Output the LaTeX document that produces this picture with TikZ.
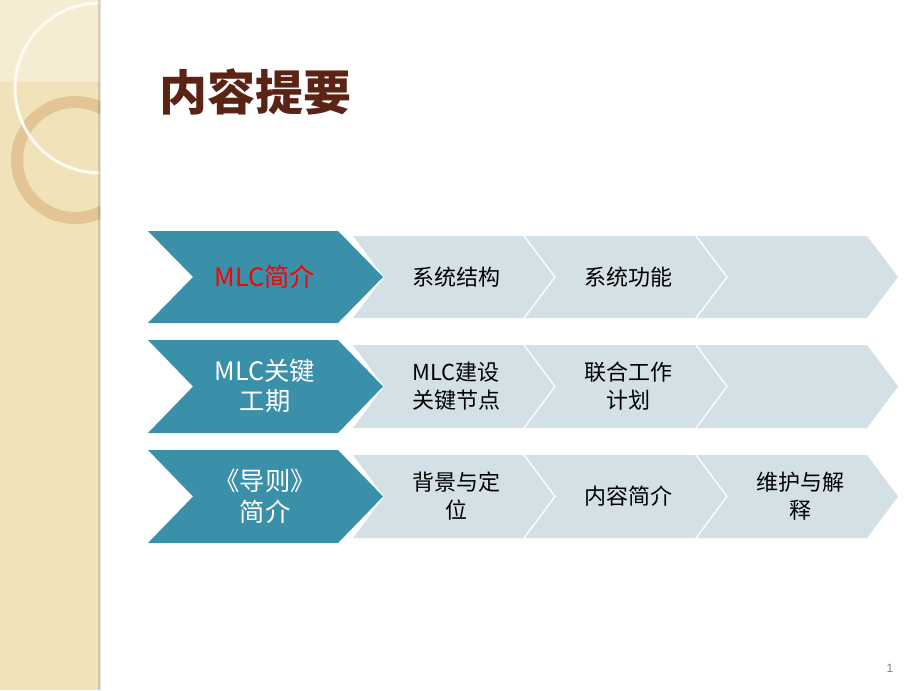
\documentclass[tikz,border=0pt]{standalone}
\usepackage{fontspec}
\setmainfont{Liberation Sans}
\newfontfamily\cjk{Noto Sans CJK SC}
\begin{document}
\begin{tikzpicture}[x=0.75pt,y=-0.75pt,
  dark/.style={fill=tealc,draw=none},
  light/.style={fill=lightc,draw=none},
  dtxt/.style={text=white,font=\cjk\fontsize{19}{23}\selectfont,align=center},
  ltxt/.style={text=black,font=\cjk\fontsize{16.5}{21}\selectfont,align=center}]
\definecolor{tealc}{HTML}{3A90A8}
\definecolor{lightc}{HTML}{D3E0E5}
\definecolor{beige}{HTML}{F1E2B9}
\definecolor{titlec}{HTML}{5B2314}
\useasboundingbox (0,0) rectangle (920,690);
\fill[white] (0,0) rectangle (920,690);
% left strip
\begin{scope}
\clip (0,0) rectangle (100,690);
\fill[beige] (0,0) rectangle (100,690);
\fill[white,opacity=0.35] (0,0) rectangle (100,82) ;
\draw[line width=12pt*0.75,color=brown!30!beige] (75,160) circle (58);
\draw[line width=2.2,color=white!85!beige] (100,88) circle (85);
\end{scope}
\fill[black,opacity=0.12] (98,0) rectangle (101,690);
% title
\node[text=titlec,font=\cjk\bfseries\fontsize{36}{40}\selectfont,anchor=west] (title) at (155,92) {内容提要};
% rows
\foreach \r/\yt/\yb in {1/231/323,2/340/433,3/450/543}{
  \pgfmathsetmacro{\ym}{(\yt+\yb)/2}
  \fill[dark] (148,\yt) -- (338,\yt) -- (383,\ym) -- (338,\yb) -- (148,\yb) -- (193,\ym) -- cycle;
  \foreach \xa in {353,525,697}{
    \fill[light] (\xa,\yt+5) -- (\xa+170,\yt+5) -- (\xa+201,\ym) -- (\xa+170,\yb-5) -- (\xa,\yb-5) -- (\xa+31,\ym) -- cycle;
  }
}
\node[dtxt,text=red] (d1) at (265,277) {MLC简介};
\node[dtxt] (d2) at (265,386) {MLC关键\\工期};
\node[dtxt] (d3) at (265,496) {《导则》\\简介};
\node[ltxt] (a1) at (456,277) {系统结构};
\node[ltxt] (a2) at (628,277) {系统功能};
\node[ltxt] (b1) at (456,386) {MLC建设\\关键节点};
\node[ltxt] (b2) at (628,386) {联合工作\\计划};
\node[ltxt] (c1) at (456,496) {背景与定\\位};
\node[ltxt] (c2) at (628,496) {内容简介};
\node[ltxt] (c3) at (800,496) {维护与解\\释};
\node[text=gray,font=\fontsize{9}{10}\selectfont] (pg) at (890,668) {1};
\end{tikzpicture}
\end{document}
